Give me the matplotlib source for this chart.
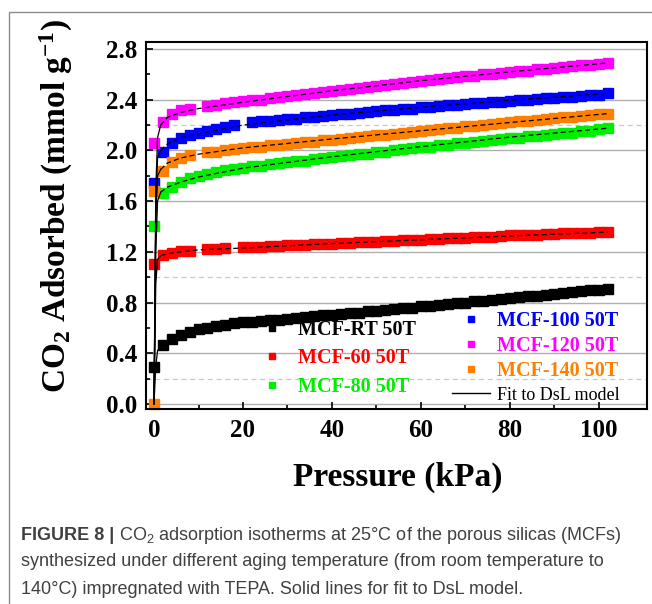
import numpy as np
import matplotlib.pyplot as plt
from matplotlib.lines import Line2D
from matplotlib.patches import Rectangle

nan = np.nan

# ---------------- data ----------------
PRESSURE = [0.1,
            2, 4, 6, 8, 10, 12, 14, 16, 18, 20,
            22, 24, 26, 28, 30, 32, 34, 36, 38, 40,
            42, 44, 46, 48, 50, 52, 54, 56, 58, 60,
            62, 64, 66, 68, 70, 72, 74, 76, 78, 80,
            82, 84, 86, 88, 90, 92, 94, 96, 98, 100,
            102]

MCF_RT = [0.29,
          0.465, 0.51, 0.545, 0.57, 0.59, 0.60, 0.615, 0.625, 0.635, 0.645,
          0.65, 0.655, 0.66, 0.665, 0.67, 0.68, 0.685, 0.69, 0.70, 0.705,
          0.71, 0.715, 0.72, 0.73, 0.735, 0.74, 0.75, 0.755, 0.76, 0.77,
          0.775, 0.78, 0.79, 0.795, 0.80, 0.81, 0.815, 0.82, 0.83, 0.835,
          0.84, 0.85, 0.855, 0.86, 0.87, 0.875, 0.88, 0.89, 0.895, 0.90,
          0.905]

MCF_60 = [1.10,
          1.175, 1.19, 1.205, 1.21, nan, 1.22, 1.225, 1.23, nan, 1.235,
          1.24, 1.24, 1.245, 1.245, 1.25, 1.255, 1.255, 1.26, 1.265, 1.265,
          1.27, 1.27, 1.275, 1.28, 1.28, 1.285, 1.285, 1.29, 1.295, 1.295,
          1.30, 1.30, 1.305, 1.31, 1.31, 1.315, 1.32, 1.32, 1.325, 1.33,
          1.33, 1.335, 1.335, 1.34, 1.34, 1.345, 1.345, 1.35, 1.35, 1.355,
          1.355]

MCF_80 = [1.40,
          1.66, 1.71, 1.75, 1.78, 1.80, 1.815, 1.83, 1.845, 1.855, 1.865,
          1.875, 1.88, 1.89, 1.90, 1.905, 1.915, 1.92, 1.93, 1.94, 1.945,
          1.955, 1.96, 1.97, 1.975, 1.985, 1.99, 2.00, 2.01, 2.015, 2.025,
          2.03, 2.04, 2.045, 2.055, 2.06, 2.07, 2.075, 2.08, 2.09, 2.095,
          2.10, 2.11, 2.115, 2.12, 2.13, 2.135, 2.14, 2.15, 2.155, 2.165,
          2.175]

MCF_100 = [1.74,
           1.99, 2.06, 2.10, 2.12, 2.14, 2.155, 2.17, 2.185, 2.20, nan,
           2.22, 2.23, 2.235, 2.24, 2.245, 2.25, 2.26, 2.265, 2.27, 2.28,
           2.285, 2.29, 2.295, 2.30, 2.31, 2.315, 2.32, 2.325, 2.33, 2.34,
           2.345, 2.35, 2.355, 2.36, 2.365, 2.37, 2.375, 2.38, 2.385, 2.39,
           2.395, 2.40, 2.405, 2.41, 2.415, 2.42, 2.425, 2.43, 2.435, 2.44,
           2.45]

MCF_120 = [2.06,
           2.22, 2.29, 2.32, 2.33, nan, 2.35, 2.36, 2.37, 2.38, 2.39,
           2.395, 2.40, 2.41, 2.42, 2.43, 2.435, 2.445, 2.45, 2.46, 2.47,
           2.475, 2.485, 2.49, 2.50, 2.51, 2.515, 2.525, 2.53, 2.54, 2.55,
           2.555, 2.565, 2.57, 2.58, 2.585, 2.59, 2.60, 2.605, 2.61, 2.62,
           2.625, 2.63, 2.64, 2.645, 2.65, 2.655, 2.665, 2.67, 2.675, 2.685,
           2.69]

MCF_140 = [1.68,
           1.84, 1.91, 1.94, 1.96, nan, 1.985, 1.99, 2.00, 2.01, 2.02,
           2.025, 2.03, 2.04, 2.045, 2.05, 2.06, 2.065, 2.07, 2.08, 2.085,
           2.09, 2.10, 2.105, 2.11, 2.12, 2.125, 2.13, 2.14, 2.145, 2.155,
           2.16, 2.17, 2.175, 2.18, 2.19, 2.195, 2.20, 2.21, 2.215, 2.22,
           2.23, 2.235, 2.24, 2.25, 2.255, 2.26, 2.265, 2.27, 2.28, 2.285,
           2.29]
# extra orange point sitting on the origin
MCF_140_P0 = [0.0]
MCF_140_V0 = [0.0]

# DsL fit curves
FIT_P = [0, 0.4, 0.8, 1.5, 3, 6, 10, 20, 40, 60, 80, 102]
FIT_RT = [0, 0.30, 0.42, 0.46, 0.50, 0.54, 0.58, 0.64, 0.71, 0.77, 0.84, 0.905]
FIT_60 = [0, 0.95, 1.14, 1.17, 1.185, 1.20, 1.215, 1.23, 1.265, 1.295, 1.325, 1.355]
FIT_80 = [0, 1.20, 1.60, 1.67, 1.71, 1.75, 1.79, 1.86, 1.95, 2.03, 2.105, 2.175]
FIT_100 = [0, 1.50, 1.95, 2.00, 2.05, 2.10, 2.13, 2.20, 2.28, 2.34, 2.395, 2.45]
FIT_120 = [0, 1.70, 2.10, 2.20, 2.26, 2.30, 2.33, 2.38, 2.47, 2.55, 2.62, 2.69]
FIT_140 = [0, 1.45, 1.80, 1.85, 1.90, 1.94, 1.97, 2.02, 2.09, 2.155, 2.22, 2.29]

LABELS = ["MCF-RT 50T", "MCF-60 50T", "MCF-80 50T",
          "MCF-100 50T", "MCF-120 50T", "MCF-140 50T"]
COLORS = ["#000000", "#ff0000", "#00ee00", "#0000ff", "#ff00ff", "#ff8000"]

# ---------------- figure ----------------
plt.rcParams['font.family'] = ['Liberation Serif', 'DejaVu Serif']
plt.rcParams['mathtext.fontset'] = 'custom'
plt.rcParams['mathtext.rm'] = 'Liberation Serif'

W, H = 652, 604
fig = plt.figure(figsize=(W / 100, H / 100), dpi=100)
ax = fig.add_axes([146 / W, 1 - 409 / H, (647 - 146) / W, (409 - 42) / H])

series = [MCF_RT, MCF_60, MCF_80, MCF_100, MCF_120, MCF_140]
fits = [FIT_RT, FIT_60, FIT_80, FIT_100, FIT_120, FIT_140]

# grid lines
for yv in [0.0, 0.4, 0.8, 1.2, 1.6, 2.0, 2.4, 2.8]:
    ax.axhline(yv, color='#b0b0b0', lw=1.0, zorder=0)
for yv in [0.2, 1.0, 2.2]:
    ax.axhline(yv, color='#c8c8c8', lw=0.9, ls=(0, (4, 3)), zorder=0)

for vals, col in zip(series, COLORS):
    ax.plot(PRESSURE, vals, ls='none', marker='s', ms=7.4, mec=col, mfc=col, zorder=2)
ax.plot(MCF_140_P0, MCF_140_V0, ls='none', marker='s', ms=7.4, mec=COLORS[5], mfc=COLORS[5],
        zorder=2, clip_on=False)

for fv in fits:
    ax.plot(FIT_P[:4], fv[:4], color='black', lw=0.9, zorder=3)
    ax.plot(FIT_P[3:], fv[3:], color='black', lw=0.9, dashes=(4, 2.5), zorder=3)

ax.set_xlim(-1.8, 110.8)
ax.set_ylim(-0.04, 2.855)
ax.set_xticks([0, 20, 40, 60, 80, 100])
ax.set_xticks([10, 30, 50, 70, 90], minor=True)
ax.set_yticks([0.0, 0.4, 0.8, 1.2, 1.6, 2.0, 2.4, 2.8])
ax.set_yticks([0.2, 0.6, 1.0, 1.4, 1.8, 2.2, 2.6], minor=True)
ax.set_yticklabels([f"{v:.1f}" for v in ax.get_yticks()])
ax.tick_params(which='both', direction='in', width=1.2, labelsize=18)
ax.tick_params(axis='x', pad=7)
ax.tick_params(axis='y', pad=6)
ax.tick_params(which='major', length=5)
ax.tick_params(which='minor', length=3)
for lab in ax.get_xticklabels() + ax.get_yticklabels():
    lab.set_fontweight('bold')
for sp in ax.spines.values():
    sp.set_linewidth(1.5)

ax.set_xlabel("Pressure (kPa)", fontsize=24, fontweight='bold')
ax.xaxis.set_label_coords(0.503, -0.143)
ax.set_ylabel(r"CO$\mathregular{_2}$ Adsorbed (mmol g$\mathregular{^{-1}}$)",
              fontsize=24, fontweight='bold')
ax.yaxis.set_label_coords(-0.142, 0.553)

# legends (two columns, placed like the original)
lfont = {'family': 'Liberation Serif', 'weight': 'bold', 'size': 14.5}
h1 = [Line2D([], [], ls='none', marker='s', ms=5, mec=c, mfc=c) for c in COLORS[:3]]
leg1 = ax.legend(h1, LABELS[:3], loc='upper left', bbox_to_anchor=(256 / W, 1 - 320 / H),
                 bbox_transform=fig.transFigure, frameon=False, prop=lfont,
                 handlelength=1.6, handletextpad=0.5, labelspacing=0.42, borderpad=0,
                 borderaxespad=0)
for t, c in zip(leg1.get_texts(), COLORS[:3]):
    t.set_color(c)
ax.add_artist(leg1)

h2 = [Line2D([], [], ls='none', marker='s', ms=5, mec=c, mfc=c) for c in COLORS[3:]]
h2.append(Line2D([], [], color='black', lw=1.0))
leg2 = ax.legend(h2, LABELS[3:] + ["Fit to DsL model"], loc='upper left',
                 bbox_to_anchor=(452 / W, 1 - 311 / H), bbox_transform=fig.transFigure,
                 frameon=False, prop=lfont, handlelength=1.9, handletextpad=0.35,
                 labelspacing=0.25, borderpad=0, borderaxespad=0)
for t, c in zip(leg2.get_texts(), COLORS[3:] + ['black']):
    t.set_color(c)
fit_txt = leg2.get_texts()[-1]
fit_txt.set_fontweight('normal')
fit_txt.set_fontsize(13)

# outer frame of the figure panel
fig.patches.append(Rectangle((9 / W, -0.02), 1.2, 1 - 12 / H + 0.02, transform=fig.transFigure,
                             fill=False, edgecolor='#8a8a8a', lw=1.0, clip_on=False))

# caption
cap_font = {'family': 'Liberation Sans', 'size': 13, 'color': '#404040'}
x0 = 21 / W
bold = fig.text(x0, 1 - 535 / H, "FIGURE 8 |", fontweight='bold', va='center', **cap_font)
fig.canvas.draw()
bb = bold.get_window_extent(renderer=fig.canvas.get_renderer())
fig.text(bb.x1 / W, 1 - 535 / H,
         r" CO$\mathregular{_2}$ adsorption isotherms at 25°C of the porous silicas (MCFs)",
         va='center', **cap_font)
fig.text(x0, 1 - 562 / H,
         "synthesized under different aging temperature (from room temperature to",
         va='center', **cap_font)
fig.text(x0, 1 - 589 / H,
         "140°C) impregnated with TEPA. Solid lines for fit to DsL model.",
         va='center', **cap_font)

fig.savefig("out.png", dpi=100)
